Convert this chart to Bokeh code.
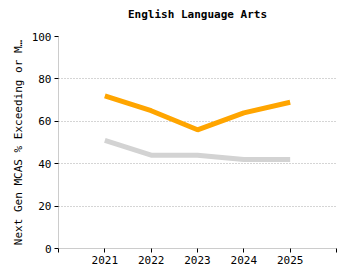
from bokeh.plotting import figure
from bokeh.embed import file_html
from bokeh.resources import INLINE
from bokeh.models import FixedTicker, Range1d

years = [2021, 2022, 2023, 2024, 2025]
school = [72, 65, 56, 64, 69]
state = [51, 44, 44, 42, 42]
y_ticks = [0, 20, 40, 60, 80, 100]
x_ticks = [2020, 2021, 2022, 2023, 2024, 2025, 2026]
title_text = "English Language Arts"

FONT = "DejaVu Sans Mono"

p = figure(width=350, height=280, output_backend="svg", toolbar_location=None,
           x_range=Range1d(2020, 2026), y_range=Range1d(0, 100),
           min_border_left=58, min_border_right=14, min_border_top=36, min_border_bottom=32,
           title=title_text + "\n ")
p.outline_line_color = None
p.title.align = "center"
p.title.offset = -22
p.title.standoff = 6
p.title.text_font = FONT
p.title.text_font_size = "11px"
p.title.text_font_style = "bold"
p.title.text_color = "#000000"

p.line(years, state, line_width=5, color="#d3d3d3")
p.line(years, school, line_width=5, color="#ffa500")

p.xaxis.ticker = FixedTicker(ticks=x_ticks)
p.xaxis.major_label_overrides = {2020: "", 2026: ""}
p.yaxis.ticker = FixedTicker(ticks=y_ticks)
for ax in (p.xaxis[0], p.yaxis[0]):
    ax.axis_line_color = "#cccccc"
    ax.major_tick_line_color = "#000000"
    ax.major_tick_out = 4
    ax.major_tick_in = 0
    ax.minor_tick_line_color = None
    ax.major_label_text_font = FONT
    ax.major_label_text_font_size = "11px"
    ax.major_label_text_color = "#000000"
    ax.major_label_standoff = 3
p.yaxis.axis_label = "Next Gen MCAS % Exceeding or M…"
p.yaxis.axis_label_text_font = FONT
p.yaxis.axis_label_text_font_size = "11px"
p.yaxis.axis_label_text_font_style = "normal"
p.yaxis.axis_label_text_color = "#000000"
p.yaxis.axis_label_standoff = 4

p.xgrid.grid_line_color = None
p.ygrid.grid_line_color = "#aaaaaa"
p.ygrid.grid_line_dash = "1 2"

open("out.html", "w").write(file_html(p, INLINE))
